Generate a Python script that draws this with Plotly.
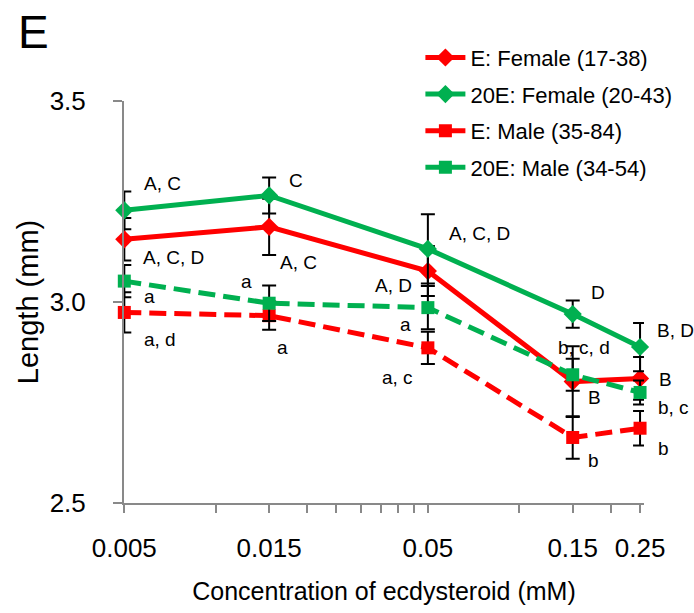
import math
import plotly.graph_objects as go

# Ecdysteroid concentrations (mM)
conc = [0.005, 0.015, 0.05, 0.15, 0.25]

# Mean length (mm) and error per group
e_female = [3.156, 3.187, 3.077, 2.802, 2.810]
e_female_err = [0.053, 0.070, 0.062, 0.088, 0.053]
e20_female = [3.228, 3.265, 3.132, 2.970, 2.888]
e20_female_err = [0.047, 0.045, 0.086, 0.034, 0.060]
e_male = [2.974, 2.966, 2.886, 2.663, 2.686]
e_male_err = [0.050, 0.035, 0.040, 0.053, 0.043]
e20_male = [3.052, 2.997, 2.986, 2.819, 2.775]
e20_male_err = [0.040, 0.044, 0.054, 0.040, 0.030]

series_names = ["E: Female (17-38)", "20E: Female (20-43)",
                "E: Male (35-84)", "20E: Male (34-54)"]

# x tick positions: labelled majors plus unlabelled minors
major_ticks = [0.005, 0.015, 0.05, 0.15, 0.25]
minor_ticks = [0.01, 0.02, 0.025, 0.03, 0.035, 0.04, 0.045, 0.1, 0.2]

# Significance letters: (concentration, y, text, x pixel shift, anchor)
letters = [
    (0.005, 3.296, "A, C", 18, "left"),
    (0.005, 3.111, "A, C, D", 17, "left"),
    (0.005, 3.013, "a", 18, "left"),
    (0.005, 2.906, "a, d", 18, "left"),
    (0.015, 3.302, "C", 18, "left"),
    (0.015, 3.099, "A, C", 9, "left"),
    (0.015, 3.050, "a", -15, "right"),
    (0.015, 2.886, "a", 6, "left"),
    (0.05, 3.171, "A, C, D", 19, "left"),
    (0.05, 3.040, "A, D", -14, "right"),
    (0.05, 2.945, "a", -15, "right"),
    (0.05, 2.813, "a, c", -13, "right"),
    (0.15, 3.023, "D", 16, "left"),
    (0.15, 2.886, "b, c, d", -17, "left"),
    (0.15, 2.763, "B", 13, "left"),
    (0.15, 2.606, "b", 13, "left"),
    (0.25, 2.930, "B, D", 15, "left"),
    (0.25, 2.808, "B", 17, "left"),
    (0.25, 2.737, "b, c", 16, "left"),
    (0.25, 2.636, "b", 16, "left"),
]

RED = "#FF0000"
GREEN = "#00B050"
AXIS_GREY = "#898989"
FONT = "Liberation Sans, Arial, sans-serif"

fig = go.Figure()

specs = [
    (e_female, e_female_err, RED, "solid", "diamond", 14),
    (e20_female, e20_female_err, GREEN, "solid", "diamond", 14),
    (e_male, e_male_err, RED, "17px,8px", "square", 13),
    (e20_male, e20_male_err, GREEN, "17px,8px", "square", 13),
]

for name, (vals, errs, color, dash, symbol, size) in zip(series_names, specs):
    fig.add_trace(go.Scatter(
        x=conc, y=vals, name=name, mode="lines+markers",
        line=dict(color=color, width=5, dash=dash),
        marker=dict(color=color, symbol=symbol, size=size, line=dict(width=0)),
        error_y=dict(type="data", array=errs, visible=True,
                     color="black", thickness=2, width=7),
        legendgroup=name, cliponaxis=False,
    ))

for c, y, txt, shift, anchor in letters:
    fig.add_annotation(
        x=math.log10(c), y=y, xref="x", yref="y", text=txt,
        showarrow=False, xanchor=anchor, yanchor="middle", xshift=shift,
        font=dict(family=FONT, size=19, color="black"),
    )

# Panel letter
fig.add_annotation(
    x=0, y=1, xref="paper", yref="paper", text="E", showarrow=False,
    xanchor="left", yanchor="top", xshift=-108, yshift=97,
    font=dict(family=FONT, size=46, color="black"),
)

tickvals = major_ticks + minor_ticks
ticktext = [str(v) for v in major_ticks] + [""] * len(minor_ticks)

x_lo = math.log10(min(conc)) - 0.001
x_hi = math.log10(max(conc)) + 0.013

fig.update_layout(
    width=694, height=613,
    margin=dict(l=124, r=50, t=101, b=105),
    plot_bgcolor="white", paper_bgcolor="white",
    font=dict(family=FONT, color="black"),
    showlegend=True,
    legend=dict(
        x=0.57, y=1.16, xanchor="left", yanchor="top",
        font=dict(family=FONT, size=22, color="black"),
        bgcolor="rgba(0,0,0,0)", traceorder="grouped",
        tracegroupgap=5, itemwidth=40,
    ),
    xaxis=dict(
        type="log", range=[x_lo, x_hi],
        tickmode="array", tickvals=tickvals, ticktext=ticktext,
        ticks="outside", ticklen=8, tickwidth=1.5, tickcolor=AXIS_GREY,
        showline=True, linecolor=AXIS_GREY, linewidth=2,
        showgrid=False, zeroline=False,
        tickfont=dict(family=FONT, size=26, color="black"),
        ticklabelstandoff=13,
        title=dict(text="Concentration of ecdysteroid (mM)",
                   font=dict(family=FONT, size=25, color="black"),
                   standoff=20),
    ),
    yaxis=dict(
        range=[2.5, 3.5], tickmode="array", tickvals=[2.5, 3.0, 3.5],
        ticktext=["2.5", "3.0", "3.5"],
        ticks="outside", ticklen=9, tickwidth=1.5, tickcolor=AXIS_GREY,
        showline=True, linecolor=AXIS_GREY, linewidth=2,
        showgrid=False, zeroline=False,
        tickfont=dict(family=FONT, size=26, color="black"),
        ticklabelstandoff=22,
        title=dict(text="Length (mm)",
                   font=dict(family=FONT, size=29, color="black"),
                   standoff=2),
    ),
)

fig.write_html("out.html")
